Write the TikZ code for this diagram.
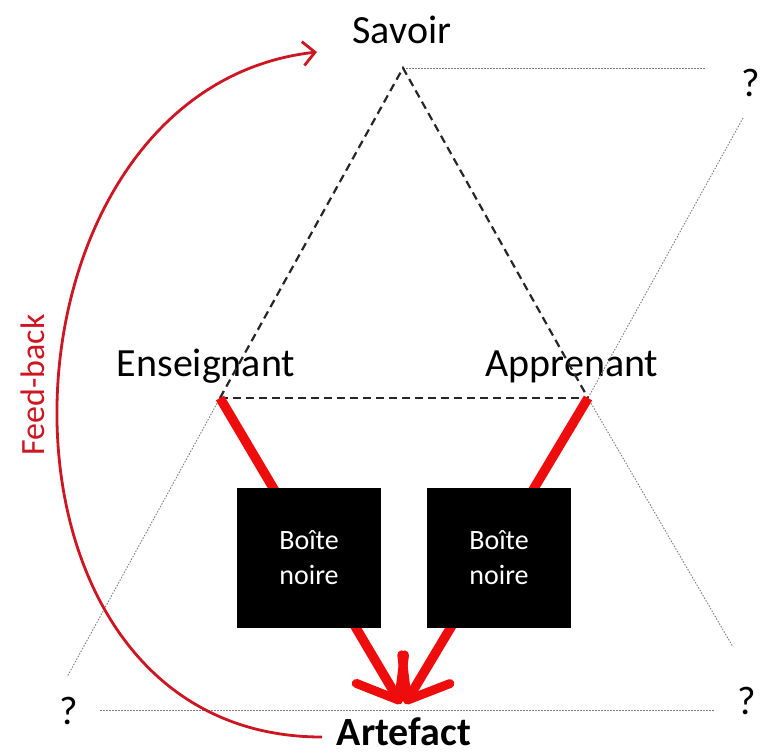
\documentclass[tikz,border=0pt]{standalone}
\usepackage{fontspec}
\setmainfont{Carlito}
\usetikzlibrary{arrows.meta}
\definecolor{flowred}{RGB}{238,12,12}
\definecolor{loopred}{RGB}{205,22,34}
\definecolor{guide}{RGB}{125,125,125}
\begin{document}
\begin{tikzpicture}[x=1pt,y=-1pt,
  label40/.style={font=\fontsize{40}{48}\selectfont, anchor=base, inner sep=0pt},
  question/.style={font=\fontsize{40}{48}\selectfont, inner sep=0pt},
  triside/.style={black!85, line width=2.2pt, dash pattern=on 8pt off 5pt},
  guideline/.style={guide, line width=0.9pt, dash pattern=on 1.5pt off 1.5pt},
  flow/.style={flowred, line width=9.5pt,
    -{Straight Barb[length=36pt, width=56pt, line width=9pt, round]}},
  blackbox/.style={fill=black, minimum width=144pt, minimum height=140pt,
    text=white, align=center, inner sep=0pt,
    font=\fontsize{28}{35}\selectfont},
  feedback/.style={loopred, line width=2.8pt,
    -{Straight Barb[length=12pt, width=24pt, line width=2.8pt]}}
]
\useasboundingbox (0,0) rectangle (762,755);

% corners of the didactic triangle
\coordinate (S) at (403,68);
\coordinate (E) at (220,398);
\coordinate (A) at (588,398);
% tips of the two flows meeting at the artefact
\coordinate (T1) at (401,704);
\coordinate (T2) at (405,704);

% labels
\node[label40] (savoir) at (402,43) {Savoir};
\node[label40] (ens) at (206,376) {Enseignant};
\node[label40] (app) at (572,376) {Apprenant};
\node[label40, font=\fontsize{40}{48}\selectfont\bfseries] (artefact) at (404,745) {Artefact};
\node[question] (qtop) at (751,83) {?};
\node[question] (qleft) at (69,711) {?};
\node[question] (qright) at (747,701) {?};

% grey guide lines towards the unknown poles
\coordinate (g1) at (705,68);
\coordinate (g2) at (743,118);
\coordinate (g3) at (733,647);
\coordinate (g4) at (67,677);
\coordinate (g5) at (100,710);
\coordinate (g6) at (715,710);
\draw[guideline] (S) -- (g1);
\draw[guideline] (g2) -- (A);
\draw[guideline] (A) -- (g3);
\draw[guideline] (E) -- (g4);
\draw[guideline] (g5) -- (g6);

% dashed triangle
\draw[triside] (E) -- (S) -- (A);
\draw[triside] (E) -- (A);

% flows through the black boxes
\draw[flow] (E) -- (T1);
\draw[flow] (A) -- (T2);
\node[blackbox] (box1) at (309,558) {Boîte\\noire};
\node[blackbox] (box2) at (499,558) {Boîte\\noire};

% feedback loop from the artefact back to knowledge
\coordinate (fbstart) at (322,737);
\coordinate (fbend) at (317,52);
\draw[feedback] (fbstart) .. controls (-40,737) and (-20,90) .. (fbend);
\node[loopred, rotate=90, font=\fontsize{34}{40}\selectfont, inner sep=0pt] (fb) at (33,385) {Feed-back};
\end{tikzpicture}
\end{document}
